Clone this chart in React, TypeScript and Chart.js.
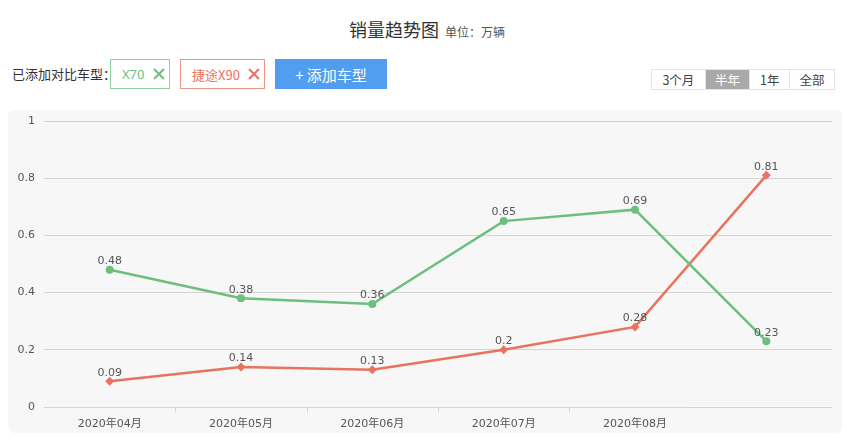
import React, { useEffect, useRef } from "react";
import { Chart, registerables } from "chart.js";

Chart.register(...registerables);

const categories = ["2020年04月", "2020年05月", "2020年06月", "2020年07月", "2020年08月", ""];
const seriesX70 = [0.48, 0.38, 0.36, 0.65, 0.69, 0.23];
const seriesX90 = [0.09, 0.14, 0.13, 0.2, 0.28, 0.81];
const yTicks = [0, 0.2, 0.4, 0.6, 0.8, 1];
const rangeOptions = ["3个月", "半年", "1年", "全部"];

const GREEN = "#6dbf7e";
const RED = "#e8735f";
const FONT = "'DejaVu Sans', 'Noto Sans CJK SC', sans-serif";
const CJK = "'Noto Sans CJK SC', 'DejaVu Sans', sans-serif";

const labelPlugin = {
  id: "pointLabels",
  afterDatasetsDraw(chart: any) {
    const ctx = chart.ctx;
    ctx.save();
    ctx.font = `11px ${FONT}`;
    ctx.fillStyle = "#555";
    ctx.textAlign = "center";
    ctx.textBaseline = "bottom";
    chart.data.datasets.forEach((ds: any, i: number) => {
      const meta = chart.getDatasetMeta(i);
      meta.data.forEach((pt: any, j: number) => {
        ctx.fillText(String(ds.data[j]), pt.x, pt.y - 3);
      });
    });
    ctx.restore();
  },
};

const axisPlugin = {
  id: "customAxis",
  beforeDatasetsDraw(chart: any) {
    const x = chart.scales.x;
    const ctx = chart.ctx;
    const y = chart.chartArea.bottom + 0.5;
    const step = x.getPixelForValue(1) - x.getPixelForValue(0);
    const end = x.getPixelForValue(4) + step * 0.35;
    ctx.save();
    ctx.strokeStyle = "#ccd6eb";
    ctx.lineWidth = 1;
    ctx.beginPath();
    ctx.moveTo(chart.chartArea.left, y);
    ctx.lineTo(end, y);
    for (let i = 0; i < 4; i++) {
      const tx = Math.round((x.getPixelForValue(i) + x.getPixelForValue(i + 1)) / 2) + 0.5;
      ctx.moveTo(tx, y);
      ctx.lineTo(tx, y + 5);
    }
    ctx.stroke();
    ctx.restore();
  },
};

function CrossIcon({ color }: { color: string }) {
  return (
    <svg width="12" height="12" viewBox="0 0 12 12" style={{ display: "block" }}>
      <path d="M1 1 L11 11 M11 1 L1 11" stroke={color} strokeWidth="2" />
    </svg>
  );
}

export default function App() {
  const canvasRef = useRef<HTMLCanvasElement | null>(null);

  useEffect(() => {
    if (!canvasRef.current) return;
    const chart = new Chart(canvasRef.current, {
      type: "line",
      data: {
        labels: categories,
        datasets: [
          {
            label: "X70",
            data: seriesX70,
            borderColor: GREEN,
            backgroundColor: GREEN,
            borderWidth: 2.5,
            pointStyle: "circle",
            pointRadius: 4,
            pointBorderWidth: 0,
            tension: 0,
          },
          {
            label: "捷途X90",
            data: seriesX90,
            borderColor: RED,
            backgroundColor: RED,
            borderWidth: 2.5,
            pointStyle: "rectRot",
            pointRadius: 4.5,
            pointBorderWidth: 0,
            tension: 0,
          },
        ],
      },
      options: {
        animation: false,
        responsive: false,
        maintainAspectRatio: false,
        layout: { padding: { top: 11, right: 10, left: 0, bottom: 0 } },
        plugins: { legend: { display: false }, tooltip: { enabled: false } },
        scales: {
          x: {
            offset: true,
            grid: { display: false },
            border: { display: false },
            ticks: {
              padding: 3,
              color: "#555",
              font: { size: 11, family: FONT },
              maxRotation: 0,
              autoSkip: false,
            },
            afterFit(scale: any) {
              scale.height = 26;
              scale.paddingLeft = 0;
              scale.paddingRight = 0;
            },
          },
          y: {
            min: 0,
            max: 1,
            afterBuildTicks(scale: any) {
              scale.ticks = yTicks.map((v) => ({ value: v }));
            },
            grid: { color: "#d4d4d4", drawTicks: false },
            border: { display: false },
            ticks: {
              padding: 9,
              color: "#555",
              font: { size: 11, family: FONT },
              callback: (v: any) => String(v),
            },
            afterFit(scale: any) {
              scale.width = 36;
              scale.paddingTop = 0;
              scale.paddingBottom = 0;
            },
          },
        },
      },
      plugins: [axisPlugin, labelPlugin],
    });
    return () => chart.destroy();
  }, []);

  const abs = (s: React.CSSProperties): React.CSSProperties => ({ position: "absolute", boxSizing: "border-box", ...s });

  return (
    <div style={{ position: "absolute", left: 0, top: 0, width: 852, height: 444, background: "#fff", fontFamily: CJK, overflow: "hidden" }}>
      <div style={abs({ left: 0, top: 16, width: 852, height: 30, display: "flex", justifyContent: "center", alignItems: "baseline" })}>
        <span style={{ fontSize: 18, color: "#333", fontWeight: 400, marginLeft: 2 }}>销量趋势图</span>
        <span style={{ fontSize: 12, color: "#555", marginLeft: 6 }}>单位：万辆</span>
      </div>

      <div style={abs({ left: 12, top: 64, fontSize: 13, color: "#333", lineHeight: "20px" })}>已添加对比车型：</div>

      <div style={abs({ left: 110, top: 59, width: 60, height: 30, border: "1px solid #8fd09c", display: "flex", alignItems: "center", paddingLeft: 11 })}>
        <span style={{ fontSize: 13, color: GREEN, fontFamily: "'Noto Sans', sans-serif" }}>X70</span>
        <span style={{ marginLeft: 8 }}><CrossIcon color={GREEN} /></span>
      </div>

      <div style={abs({ left: 180, top: 59, width: 85, height: 30, border: "1px solid #ec9383", display: "flex", alignItems: "center", paddingLeft: 11 })}>
        <span style={{ fontSize: 13, color: RED }}>捷途X90</span>
        <span style={{ marginLeft: 8 }}><CrossIcon color={RED} /></span>
      </div>

      <div style={abs({ left: 275, top: 59, width: 112, height: 30, background: "#519ef0", color: "#fff", fontSize: 15, display: "flex", alignItems: "center", justifyContent: "center" })}>
        +&nbsp;添加车型
      </div>

      <div style={abs({ left: 651, top: 69, width: 184, height: 21, display: "flex", border: "1px solid #e4e4e4" })}>
        {rangeOptions.map((r, i) => (
          <div
            key={r}
            style={{
              width: [53, 45, 40, 45][i],
              height: "100%",
              boxSizing: "border-box",
              borderLeft: i > 0 ? "1px solid #e4e4e4" : "none",
              background: r === "半年" ? "#a9a9a9" : "#fff",
              color: r === "半年" ? "#fff" : "#444",
              fontSize: 12.5,
              display: "flex",
              alignItems: "center",
              justifyContent: "center",
            }}
          >
            {r}
          </div>
        ))}
      </div>

      <div style={abs({ left: 8, top: 110, width: 834, height: 323, background: "#f7f7f7", borderRadius: 6 })}>
        <canvas ref={canvasRef} width={834} height={323} style={{ display: "block", width: 834, height: 323 }} />
      </div>
    </div>
  );
}
